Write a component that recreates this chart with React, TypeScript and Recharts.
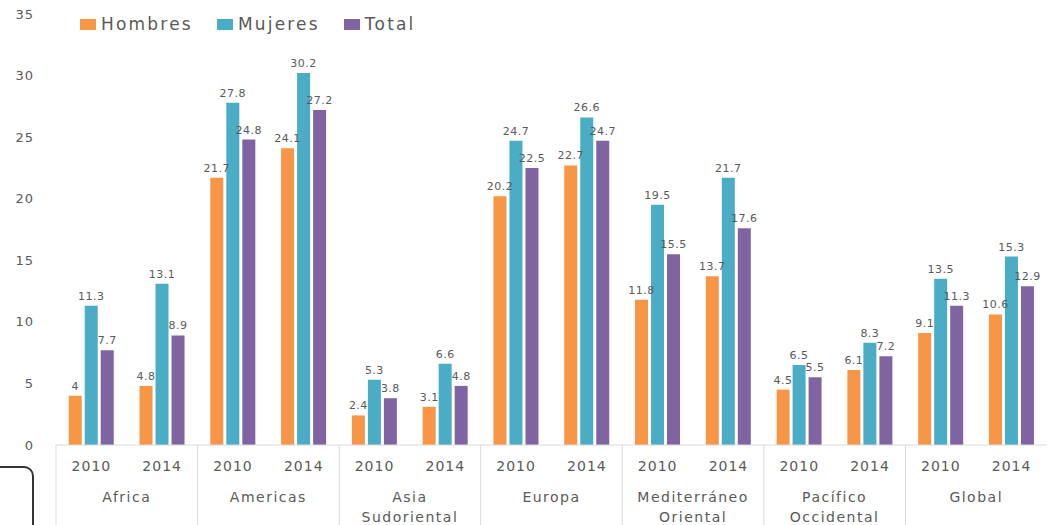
import React from "react";
import { BarChart, Bar, XAxis, YAxis, Legend, LabelList } from "recharts";

const years = ["2010", "2014", "2010", "2014", "2010", "2014", "2010", "2014", "2010", "2014", "2010", "2014", "2010", "2014"];
const regions = ["Africa", "Americas", "Asia Sudoriental", "Europa", "Mediterráneo Oriental", "Pacífico Occidental", "Global"];
const hombres = [4, 4.8, 21.7, 24.1, 2.4, 3.1, 20.2, 22.7, 11.8, 13.7, 4.5, 6.1, 9.1, 10.6];
const mujeres = [11.3, 13.1, 27.8, 30.2, 5.3, 6.6, 24.7, 26.6, 19.5, 21.7, 6.5, 8.3, 13.5, 15.3];
const total = [7.7, 8.9, 24.8, 27.2, 3.8, 4.8, 22.5, 24.7, 15.5, 17.6, 5.5, 7.2, 11.3, 12.9];
const yTicks = [0, 5, 10, 15, 20, 25, 30, 35];

const seriesNames = ["Hombres", "Mujeres", "Total"];
const COLORS = ["#F79646", "#4BACC6", "#8064A2"];

const data = years.map((y, i) => ({
  year: y,
  region: regions[Math.floor(i / 2)],
  Hombres: hombres[i],
  Mujeres: mujeres[i],
  Total: total[i],
}));

const W = 1055;
const H = 525;
const ML = 56;
const MR = 8;
const CAT_W = (W - ML - MR) / data.length;
const TEXT = "#595959";
const FONT = "'DejaVu Sans', sans-serif";
const LINE = "#D9D9D9";

const XTick = (props: any) => {
  const { x, y, payload, index } = props;
  const i = typeof index === "number" ? index : payload.index;
  const els: any[] = [];
  els.push(
    <text key="yr" x={x} y={y + 26} textAnchor="middle" fill={TEXT} fontSize={14} fontFamily={FONT} letterSpacing={1}>
      {payload.value}
    </text>
  );
  if (i % 2 === 0) {
    const left = x - CAT_W / 2;
    const cx = x + CAT_W / 2;
    const lines = regions[i / 2].split(" ");
    els.push(<line key="sep" x1={left} x2={left} y1={y} y2={H} stroke={LINE} strokeWidth={1} />);
    lines.forEach((ln, k) => {
      els.push(
        <text key={"g" + k} x={cx} y={y + 57 + k * 20} textAnchor="middle" fill={TEXT} fontSize={14} fontFamily={FONT} letterSpacing={1.5}>
          {ln}
        </text>
      );
    });
  }
  return <g>{els}</g>;
};

const LegendContent = () => (
  <div style={{ display: "flex", alignItems: "center", fontFamily: FONT, fontSize: 17, color: TEXT, letterSpacing: 2.2 }}>
    {seriesNames.map((n, i) => (
      <div key={n} style={{ display: "flex", alignItems: "center", marginRight: 24 }}>
        <span style={{ display: "inline-block", width: 16, height: 11, background: COLORS[i], marginRight: 5 }} />
        <span>{n}</span>
      </div>
    ))}
  </div>
);

export default function App() {
  return (
    <div style={{ position: "absolute", left: 0, top: 0, width: W, height: H, overflow: "hidden", background: "#fff" }}>
      <BarChart width={W} height={H} data={data} margin={{ top: 14, right: MR, left: 0, bottom: 0 }} barCategoryGap="18%" barGap={3}>
        <XAxis
          dataKey="year"
          height={80}
          interval={0}
          tickLine={false}
          tickSize={0}
          tickMargin={0}
          axisLine={{ stroke: LINE }}
          tick={<XTick />}
        />
        <YAxis
          width={ML}
          domain={[0, 35]}
          ticks={yTicks}
          tickLine={false}
          axisLine={false}
          tickSize={0}
          tickMargin={22}
          tick={{ fill: TEXT, fontSize: 13, fontFamily: FONT, letterSpacing: 1 }}
        />
        <Legend
          layout="horizontal"
          verticalAlign="middle"
          align="center"
          content={<LegendContent />}
          wrapperStyle={{ top: 14, left: 80, width: "auto" }}
        />
        {seriesNames.map((n, i) => (
          <Bar key={n} dataKey={n} fill={COLORS[i]} isAnimationActive={false}>
            <LabelList dataKey={n} position="top" offset={6} fill={TEXT} fontSize={11} fontFamily={FONT} letterSpacing={0.5} />
          </Bar>
        ))}
      </BarChart>
      <div style={{ position: "absolute", left: -20, top: 466, width: 50, height: 70, border: "2px solid #333", borderRadius: 10 }} />
    </div>
  );
}
